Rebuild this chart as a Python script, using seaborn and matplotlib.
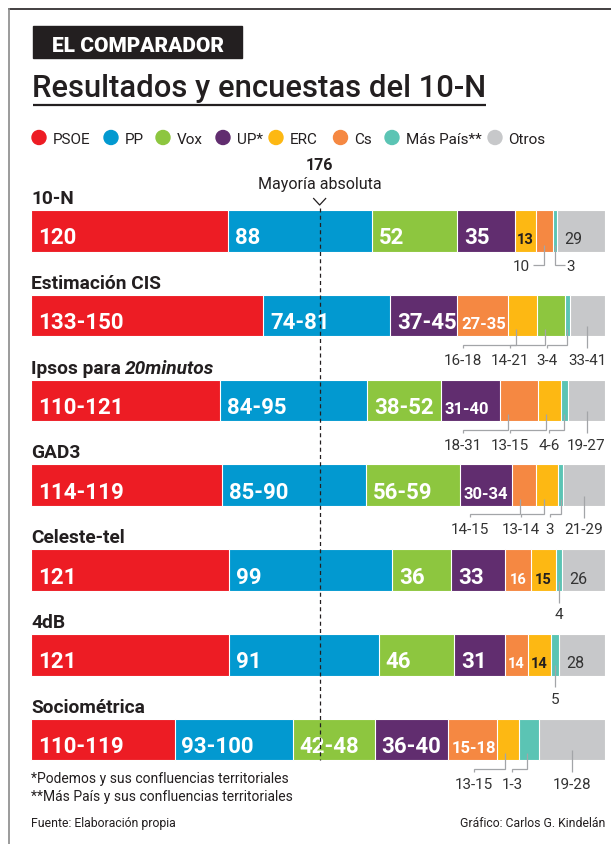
import numpy as np
import pandas as pd
import matplotlib
matplotlib.use("Agg")
import matplotlib.pyplot as plt
from matplotlib.patches import Rectangle, Circle
import seaborn as sns

# ---------------- data ----------------
POLLS = ["10-N", "Estimación CIS", "Ipsos para 20minutos", "GAD3",
         "Celeste-tel", "4dB", "Sociométrica"]

LEGEND_PARTIES = ["PSOE", "PP", "Vox", "UP", "ERC", "Cs", "Más País", "Otros"]
LEGEND_LABELS = ["PSOE", "PP", "Vox", "UP*", "ERC", "Cs", "Más País**", "Otros"]

PARTIES_10N = ["PSOE", "PP", "Vox", "UP", "ERC", "Cs", "Más País", "Otros"]
SEATS_10N = [120, 88, 52, 35, 13, 10, 3, 29]
LABELS_10N = ["120", "88", "52", "35", "13", "10", "3", "29"]

PARTIES_CIS = ["PSOE", "PP", "UP", "Cs", "ERC", "Vox", "Más País", "Otros"]
WIDTH_CIS = [141.5, 77.5, 41, 31, 17.5, 17, 3, 21.5]
LABELS_CIS = ["133-150", "74-81", "37-45", "27-35", "16-18", "14-21", "3-4", "33-41"]

PARTIES_STD = ["PSOE", "PP", "Vox", "UP", "Cs", "ERC", "Más País", "Otros"]

WIDTH_IPSOS = [115, 90, 45, 36, 23, 14, 4.5, 22.5]
LABELS_IPSOS = ["110-121", "84-95", "38-52", "31-40", "18-31", "13-15", "4-6", "19-27"]

WIDTH_GAD3 = [116.5, 87.5, 57.5, 32, 14.5, 13.5, 3, 25.5]
LABELS_GAD3 = ["114-119", "85-90", "56-59", "30-34", "14-15", "13-14", "3", "21-29"]

SEATS_CELESTE = [121, 99, 36, 33, 16, 15, 4, 26]
SEATS_4DB = [121, 91, 46, 31, 14, 14, 5, 28]

WIDTH_SOCIO = [87.5, 72, 50, 45, 29.5, 13.5, 12.5, 40]
LABELS_SOCIO = ["110-119", "93-100", "42-48", "36-40", "15-18", "13-15", "1-3", "19-28"]

MAJORITY = 176
TOTAL_SEATS = 350

ROWS = [
    ("10-N", PARTIES_10N, SEATS_10N, LABELS_10N),
    ("Estimación CIS", PARTIES_CIS, WIDTH_CIS, LABELS_CIS),
    ("Ipsos para 20minutos", PARTIES_STD, WIDTH_IPSOS, LABELS_IPSOS),
    ("GAD3", PARTIES_STD, WIDTH_GAD3, LABELS_GAD3),
    ("Celeste-tel", PARTIES_STD, SEATS_CELESTE, [str(v) for v in SEATS_CELESTE]),
    ("4dB", PARTIES_STD, SEATS_4DB, [str(v) for v in SEATS_4DB]),
    ("Sociométrica", PARTIES_STD, WIDTH_SOCIO, LABELS_SOCIO),
]

# ---------------- style ----------------
COLORS = {
    "PSOE": "#ED1C24", "PP": "#0299D0", "Vox": "#8DC63F", "UP": "#612D6F",
    "ERC": "#FDB813", "Cs": "#F58842", "Más País": "#5BC4B4", "Otros": "#C7C8CA",
}
INK = "#231F20"
LEADER = "#A3A5A8"

# label modes: B big, M mid, S small centred, O others inside,
# L elbow leader, D straight leader, l / r side leaders
MODES = {
    "10-N": "BBBBSlrO",
    "Estimación CIS": "BBBMLLLD",
    "Ipsos para 20minutos": "BBBMLLLD",
    "GAD3": "BBBMLLLD",
    "Celeste-tel": "BBBBSSDO",
    "4dB": "BBBBSSDO",
    "Sociométrica": "BBBBMLLD",
}
LEADER_X = {
    "Estimación CIS": [463, 510, 547],
    "Ipsos para 20minutos": [463, 510, 549],
    "GAD3": [470, 521, 550],
    "Sociométrica": [474, 512],
}

plt.rcParams["font.family"] = ["Roboto", "DejaVu Sans"]

W, H = 611, 845
fig = plt.figure(figsize=(W / 100, H / 100), dpi=100, facecolor="white")

# geometry in pixels
PL, PR = 31, 605
TOP0, PITCH, BAR_PX = 211, 84.8, 41.5
c0 = TOP0 + BAR_PX / 2
ytop = c0 - PITCH / 2
ybot = c0 + (len(POLLS) - 0.5) * PITCH
BW = BAR_PX / PITCH

ax = fig.add_axes([PL / W, 1 - ybot / H, (PR - PL) / W, (ybot - ytop) / H], zorder=1)
ax.patch.set_alpha(0)
bg = fig.add_axes([0, 0, 1, 1], zorder=2)
bg.patch.set_alpha(0)
bg.set_xlim(0, W)
bg.set_ylim(H, 0)
bg.axis("off")

# ---------------- bars (layered cumulative, seaborn) ----------------
recs = []
for r, (poll, parties, widths, labels) in enumerate(ROWS):
    ends = np.cumsum(widths)
    for k, (p, e) in enumerate(zip(parties, ends)):
        recs.append(dict(poll=poll, layer=k, party=p, end=e))
df = pd.DataFrame(recs)
for k in sorted(df.layer.unique(), reverse=True):
    sub = df[df.layer == k]
    sns.barplot(data=sub, x="end", y="poll", hue="party", palette=COLORS,
                order=POLLS, hue_order=list(COLORS), dodge=False, orient="h",
                width=BW, edgecolor="white", linewidth=0.8, errorbar=None,
                legend=False, saturation=1, ax=ax)
ax.set_xlim(0, TOTAL_SEATS)
ax.set_ylim(len(POLLS) - 0.5, -0.5)
ax.axis("off")


def to_px(xd, yd):
    return bg.transData.inverted().transform(ax.transData.transform((xd, yd)))


def lead(xs, ys):
    bg.plot(xs, ys, color=LEADER, lw=0.9, solid_capstyle="butt",
            solid_joinstyle="miter", zorder=3)


renderer = fig.canvas.get_renderer()

# ---------------- frame & header ----------------
bg.plot([9, W], [10, 10], color=INK, lw=1.2, zorder=1)
bg.plot([9, 9], [10, H], color="#8A8A8A", lw=1.2, zorder=1)

bg.add_patch(Rectangle((33, 27), 209, 32, color=INK, zorder=2))
bg.text(137.5, 51.5, "EL COMPARADOR", color="white", fontsize=15,
        fontweight="heavy", ha="center", va="baseline", zorder=3)

title = bg.text(32, 97, "Resultados y encuestas del 10-N", color=INK,
                fontsize=22.3, fontweight="medium", ha="left", va="baseline")
tb = title.get_window_extent(renderer)
tx1 = bg.transData.inverted().transform((tb.x1, tb.y0))[0]
bg.plot([33, tx1], [105.5, 105.5], color=INK, lw=1.6, solid_capstyle="butt")

# legend
LEG_CX = [39, 111, 163, 223, 276, 340.5, 392, 495]
for cx, p, lab in zip(LEG_CX, LEGEND_PARTIES, LEGEND_LABELS):
    bg.add_patch(Circle((cx, 138.5), 7, color=COLORS[p], zorder=3))
    bg.text(cx + 13.5, 143.5, lab, color=INK, fontsize=11, ha="left", va="baseline")

# ---------------- majority line ----------------
xm = to_px(MAJORITY, 0)[0]
last_bottom = to_px(0, len(POLLS) - 1 + BW / 2)[1]
bg.text(xm, 170, str(MAJORITY), color=INK, fontsize=11.5, fontweight="bold",
        ha="center", va="baseline")
bg.text(xm, 188.5, "Mayoría absoluta", color=INK, fontsize=11.5,
        ha="center", va="baseline")
bg.plot([xm - 6, xm, xm + 6], [199.5, 206, 199.5], color=INK, lw=0.9, zorder=4)
bg.plot([xm, xm], [209, last_bottom], color=INK, lw=0.9,
        linestyle=(0, (3.2, 2.6)), zorder=4)

# ---------------- rows ----------------
for r, (poll, parties, widths, labels) in enumerate(ROWS):
    bar_top = to_px(0, r - BW / 2)[1]
    bb = to_px(0, r + BW / 2)[1]
    # heading
    if poll == "Ipsos para 20minutos":
        t1 = bg.text(PL, bar_top - 7, "Ipsos para", color=INK, fontsize=13.8,
                     fontweight="bold", ha="left", va="baseline")
        e1 = t1.get_window_extent(renderer)
        x1h = bg.transData.inverted().transform((e1.x1, e1.y0))[0]
        bg.text(x1h + 4.5, bar_top - 7, "20minutos", color=INK, fontsize=13.8,
                fontweight="bold", fontstyle="italic", ha="left", va="baseline")
    else:
        bg.text(PL, bar_top - 7, poll, color=INK, fontsize=13.8,
                fontweight="bold", ha="left", va="baseline")

    ends = np.cumsum(widths)
    starts = ends - np.asarray(widths)
    li = 0
    for k, (p, s, e, lab) in enumerate(zip(parties, starts, ends, labels)):
        x0 = to_px(s, r)[0]
        x1 = to_px(e, r)[0]
        cx = (x0 + x1) / 2
        mode = MODES[poll][k]
        if mode == "B":
            bg.text(x0 + 7, bb - 8, lab, color="white", fontsize=16,
                    fontweight="bold", ha="left", va="baseline")
        elif mode == "M":
            bg.text(x0 + 3.5, bb - 8, lab, color="white", fontsize=12,
                    fontweight="bold", ha="left", va="baseline")
        elif mode == "S":
            col = INK if p == "ERC" else "white"
            bg.text(cx, bb - 8, lab, color=col, fontsize=10.5,
                    fontweight="bold", ha="center", va="baseline")
        elif mode == "O":
            bg.text(x0 + 7, bb - 8, lab, color="#333333", fontsize=11.5,
                    ha="left", va="baseline")
        elif mode == "L":
            ax_x = x0 + min((x1 - x0) / 2, 8)
            lx = LEADER_X[poll][li]
            li += 1
            lead([ax_x, ax_x, lx, lx], [bb - 7, bb + 8.5, bb + 8.5, bb + 11.5])
            bg.text(lx, bb + 27.5, lab, color="#333333", fontsize=11,
                    ha="center", va="baseline")
        elif mode == "D":
            lead([cx, cx], [bb - 10, bb + 12])
            bg.text(cx, bb + 27.5, lab, color="#333333", fontsize=11,
                    ha="center", va="baseline")
        elif mode == "l":
            lead([cx, cx, cx - 11], [bb - 7, bb + 13.5, bb + 13.5])
            bg.text(cx - 14, bb + 18.5, lab, color="#333333", fontsize=11,
                    ha="right", va="baseline")
        elif mode == "r":
            lead([cx, cx, cx + 10], [bb - 7, bb + 13.5, bb + 13.5])
            bg.text(cx + 11.5, bb + 18.5, lab, color="#333333", fontsize=11,
                    ha="left", va="baseline")

# ---------------- footnotes ----------------
bg.text(PL, 783, "*Podemos y sus confluencias territoriales", color=INK,
        fontsize=10, ha="left", va="baseline")
bg.text(PL, 801, "**Más País y sus confluencias territoriales", color=INK,
        fontsize=10, ha="left", va="baseline")
bg.text(PL, 827, "Fuente: Elaboración propia", color=INK, fontsize=8.8,
        ha="left", va="baseline")
bg.text(PR, 827, "Gráfico: Carlos G. Kindelán", color=INK, fontsize=8.8,
        ha="right", va="baseline")

fig.savefig("out.png", dpi=100, facecolor="white")
